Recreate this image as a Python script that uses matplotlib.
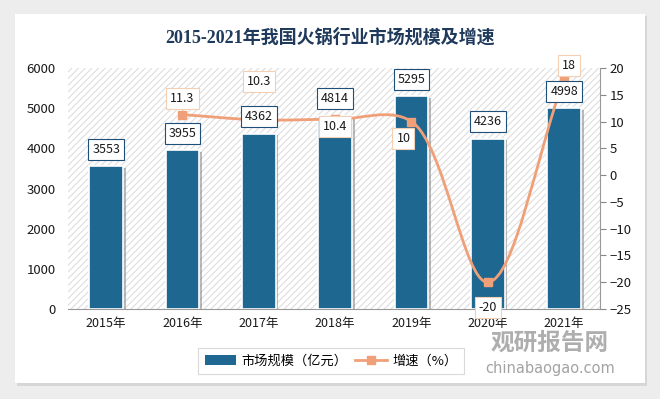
import matplotlib.pyplot as plt
import matplotlib.patheffects as pe
from matplotlib.patches import FancyBboxPatch, PathPatch, Patch
from matplotlib.path import Path
from matplotlib.lines import Line2D
import numpy as np

plt.rcParams['font.family'] = ['Noto Sans CJK SC', 'DejaVu Sans']
plt.rcParams['hatch.color'] = '#dcdcdc'
plt.rcParams['hatch.linewidth'] = 0.8

# data
years = ['2015年', '2016年', '2017年', '2018年', '2019年', '2020年', '2021年']
market_size = [3553, 3955, 4362, 4814, 5295, 4236, 4998]
growth_years = [1, 2, 3, 4, 5, 6]
growth = [11.3, 10.3, 10.4, 10, -20, 18]

bar_color = '#1d6790'
line_color = '#f0a078'
navy = '#1f4e79'

fig = plt.figure(figsize=(6.6, 3.99), dpi=100)
fig.patch.set_facecolor('#ededed')

# white card with soft shadow
card_shadow = FancyBboxPatch((17 / 660, 1 - 386 / 399), 630 / 660, 370 / 399,
                             boxstyle='square,pad=0', transform=fig.transFigure,
                             facecolor='#d6d6d6', edgecolor='none', zorder=-2)
card = FancyBboxPatch((15 / 660, 1 - 383 / 399), 630 / 660, 369 / 399,
                      boxstyle='square,pad=0', transform=fig.transFigure,
                      facecolor='white', edgecolor='none', zorder=-1)
fig.patches.extend([card_shadow, card])

ax = fig.add_axes([68 / 660, 1 - 309 / 399, 532 / 660, 241 / 399])
ax.set_zorder(1)
ax.set_facecolor('white')
ax.patch.set_hatch('/////')
ax.patch.set_edgecolor('#dedede')
ax.patch.set_linewidth(0)

x = np.arange(len(years))
bars = ax.bar(x, market_size, width=0.44, color=bar_color, edgecolor='white',
              linewidth=1.2, zorder=3)
for b in bars:
    b.set_path_effects([pe.SimplePatchShadow(offset=(2, -1), shadow_rgbFace='#777777', alpha=0.5),
                        pe.Normal()])

ax.set_xlim(-0.5, 6.47)
ax.set_ylim(0, 6000)
ax.set_yticks(range(0, 6001, 1000))
ax.set_xticks(x)
ax.set_xticklabels(years, fontsize=9, color='#1a1a1a')
ax.tick_params(axis='y', length=0, labelsize=9.5, labelcolor='#1a1a1a', pad=9)
ax.tick_params(axis='x', length=0, pad=6)
for s in ['top', 'right', 'left']:
    ax.spines[s].set_visible(False)
ax.spines['bottom'].set_color('#999999')

ax2 = ax.twinx()
ax2.set_zorder(2)
ax2.patch.set_visible(False)
ax2.set_ylim(-25, 20)
ax2.set_yticks(range(-25, 21, 5))
ax2.tick_params(axis='y', length=4, color='#888888', labelsize=9.5, labelcolor='#1a1a1a', pad=3)
for s in ['top', 'left', 'bottom']:
    ax2.spines[s].set_visible(False)
ax2.spines['right'].set_color('#999999')

# smooth curve through the growth points: centripetal Catmull-Rom in pixel space
sx, sy = 76.3, 241 / 45
pts = np.column_stack([np.array(growth_years) * sx, np.array(growth) * sy]).astype(float)
ext = np.vstack([2 * pts[0] - pts[1], pts, 2 * pts[-1] - pts[-2]])
verts = [pts[0]]
codes = [Path.MOVETO]
for i in range(1, len(ext) - 2):
    p0, p1, p2, p3 = ext[i - 1], ext[i], ext[i + 1], ext[i + 2]
    t01 = np.linalg.norm(p1 - p0) ** 0.5
    t12 = np.linalg.norm(p2 - p1) ** 0.5
    t23 = np.linalg.norm(p3 - p2) ** 0.5
    m1 = t12 * ((p1 - p0) / t01 - (p2 - p0) / (t01 + t12) + (p2 - p1) / t12)
    m2 = t12 * ((p2 - p1) / t12 - (p3 - p1) / (t12 + t23) + (p3 - p2) / t23)
    verts += [p1 + m1 / 3, p2 - m2 / 3, p2]
    codes += [Path.CURVE4] * 3
verts = np.array(verts) / [sx, sy]
ax2.add_patch(PathPatch(Path(verts, codes), facecolor='none', edgecolor=line_color,
                        linewidth=2, zorder=4))
ax2.plot(growth_years, growth, linestyle='none', marker='s', markersize=6,
         color=line_color, zorder=5)

# bar labels drawn on top of the line
for xi, v in zip(x, market_size):
    ax2.annotate(str(v), (xi, v), xycoords=ax.transData, xytext=(0, 17), textcoords='offset pixels',
                 ha='center', va='center', fontsize=9, color='#1a1a1a', zorder=6,
                 bbox=dict(boxstyle='square,pad=0.32', facecolor='white', edgecolor=navy, linewidth=0.8))

growth_offsets = [(0, 16), (0, 38), (0, -7), (-8, -17), (0, -25), (5, 13)]
for xi, v, off in zip(growth_years, growth, growth_offsets):
    ax2.annotate(f'{v:g}', (xi, v), xytext=off, textcoords='offset pixels',
                 ha='center', va='center', fontsize=9, color='#1a1a1a', zorder=7,
                 bbox=dict(boxstyle='square,pad=0.32', facecolor='white', edgecolor='#f3cfb3', linewidth=0.8))

fig.text(330 / 660, 1 - 37 / 399, '2015-2021年我国火锅行业市场规模及增速',
         ha='center', va='center', fontsize=13, fontweight='bold', color='#203a5c',
         family=['Liberation Serif', 'Noto Sans CJK SC'])

# legend
handles = [Patch(facecolor=bar_color, edgecolor='none'),
           Line2D([0], [0], color=line_color, lw=2, marker='s', markersize=6)]
leg = fig.legend(handles, ['市场规模（亿元）', '增速（%）'], loc='center',
                 bbox_to_anchor=(331 / 660, 1 - 361 / 399), ncol=2, fontsize=9.5,
                 frameon=True, fancybox=False, edgecolor='#d0d0d0', handlelength=2.4,
                 columnspacing=0.6, handletextpad=0.4, borderpad=0.5)
leg.get_frame().set_linewidth(0.8)

# watermark
fig.text(550 / 660, 1 - 343 / 399, '观研报告网', ha='center', va='center', fontsize=17,
         fontweight='bold', color='#8c8c8c', alpha=0.7, zorder=10)
fig.text(550 / 660, 1 - 369 / 399, 'chinabaogao.com', ha='center', va='center', fontsize=10.5,
         color='#8c8c8c', alpha=0.8, family=['DejaVu Sans'], zorder=10)

fig.savefig('out.png', dpi=100, facecolor=fig.get_facecolor())
